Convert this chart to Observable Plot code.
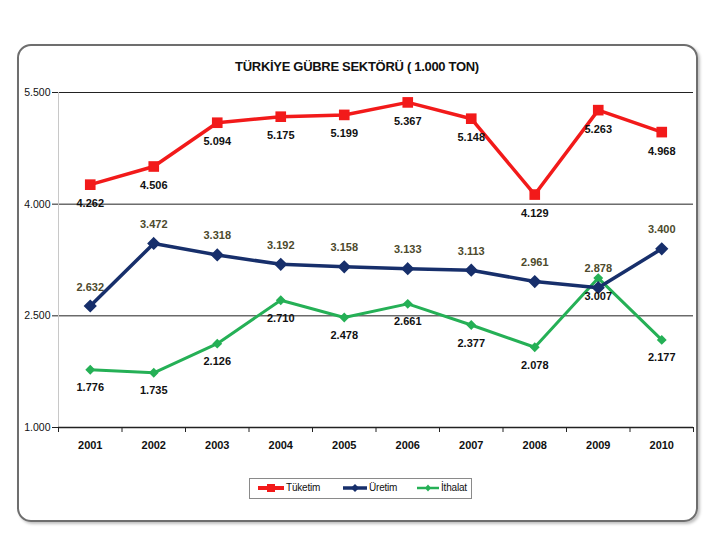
<!DOCTYPE html>
<html>
<head>
<meta charset="utf-8">
<script src="https://cdn.jsdelivr.net/npm/d3@7"></script>
<script src="https://cdn.jsdelivr.net/npm/@observablehq/plot@0.6"></script>
<style>
  body { margin: 0; background: #fff; font-family: "Liberation Sans", Arial, sans-serif; }
  #wrap { position: relative; width: 720px; height: 540px; overflow: hidden; }
  #frame { position: absolute; left: 17px; top: 44px; width: 677px; height: 474px;
           border: 2px solid #6e6e6e; border-radius: 14px; box-shadow: 2px 2px 3px rgba(0,0,0,0.25); }
  #title { position: absolute; left: 0; width: 714px; top: 59px; text-align: center;
           font-weight: bold; font-size: 13px; letter-spacing: -0.3px; color: #111; }
  #chart { position: absolute; left: 0; top: 0; }
  #legend { position: absolute; left: 249px; top: 478px; width: 221px; height: 19px;
            border: 1px solid #8a8a8a; font-size: 10px; letter-spacing: -0.2px; color: #111; }
  .item { position: absolute; top: 3px; display: flex; align-items: center; }
</style>
</head>
<body>
<div id="wrap">
  <div id="frame"></div>
  <div id="chart"></div>
  <div id="title">TÜRKİYE GÜBRE SEKTÖRÜ ( 1.000 TON)</div>
  <div id="legend"></div>
</div>
<script>
const years = [2001, 2002, 2003, 2004, 2005, 2006, 2007, 2008, 2009, 2010];
const tuketim = [4262, 4506, 5094, 5175, 5199, 5367, 5148, 4129, 5263, 4968];
const uretim  = [2632, 3472, 3318, 3192, 3158, 3133, 3113, 2961, 2878, 3400];
const ithalat = [1776, 1735, 2126, 2710, 2478, 2661, 2377, 2078, 3007, 2177];
const yTicks = [1000, 2500, 4000, 5500];
const seriesNames = ["Tüketim", "Üretim", "İthalat"];
const colors = ["#f21a1a", "#172f6b", "#25b056"];

const fmt = v => String(v).replace(/\B(?=(\d{3})+(?!\d))/g, ".");
const rows = s => years.map((y, i) => ({year: y, value: s[i]}));
const tk = rows(tuketim), ur = rows(uretim), it = rows(ithalat);
const bounds = d3.range(years.length + 1).map(i => years[0] - 0.5 + i);

const chart = Plot.plot({
  width: 720, height: 540,
  marginLeft: 58, marginRight: 27, marginTop: 92, marginBottom: 113,
  style: {fontFamily: "Liberation Sans, Arial, sans-serif", background: "transparent"},
  x: {type: "linear", domain: [years[0] - 0.5, years[years.length - 1] + 0.5]},
  y: {domain: [1000, 5500]},
  marks: [
    Plot.ruleY(yTicks.slice(1), {stroke: "#222", strokeWidth: 1}),
    Plot.ruleX([years[0] - 0.5], {stroke: "#c8c8c8", strokeWidth: 1}),
    Plot.ruleY([1000], {stroke: "#222", strokeWidth: 1.5}),
    Plot.axisY({ticks: yTicks, tickFormat: fmt, tickSize: 6, tickPadding: 2, stroke: "#222",
                fontSize: 10.5, fill: "#111", label: null}),
    Plot.axisX({ticks: bounds, tickFormat: () => "", tickSize: 5, stroke: "#222", label: null}),
    Plot.axisX({ticks: years, tickFormat: d => String(d), tickSize: 0, tickPadding: 14,
                fontSize: 11, fontWeight: "bold", fill: "#111", label: null}),
    Plot.line(it, {x: "year", y: "value", stroke: colors[2], strokeWidth: 3}),
    Plot.dot(it, {x: "year", y: "value", symbol: "diamond2", r: 3.5, fill: colors[2], stroke: colors[2]}),
    Plot.line(ur, {x: "year", y: "value", stroke: colors[1], strokeWidth: 3.5}),
    Plot.dot(ur, {x: "year", y: "value", symbol: "diamond2", r: 5, fill: colors[1], stroke: colors[1]}),
    Plot.line(tk, {x: "year", y: "value", stroke: colors[0], strokeWidth: 3.5}),
    Plot.dot(tk, {x: "year", y: "value", symbol: "square", r: 6, fill: colors[0], stroke: "none"}),
    Plot.text(tk, {x: "year", y: "value", text: d => fmt(d.value), dy: 19, fontSize: 11, fontWeight: "bold", fill: "#111"}),
    Plot.text(ur, {x: "year", y: "value", text: d => fmt(d.value), dy: -19, fontSize: 11, fontWeight: "bold", fill: "#4d4a2c"}),
    Plot.text(it, {x: "year", y: "value", text: d => fmt(d.value), dy: 18, fontSize: 11, fontWeight: "bold", fill: "#111"})
  ]
});
document.getElementById("chart").appendChild(chart);

// legend
const lg = document.getElementById("legend");
const lefts = [8, 93, 167];
const swW = [26, 24, 22];
const markerSvg = [
  w => `<svg width="${w}" height="10"><line x1="0" y1="5" x2="${w}" y2="5" stroke="${colors[0]}" stroke-width="4"/><rect x="${w/2-4}" y="1" width="8" height="8" fill="${colors[0]}"/></svg>`,
  w => `<svg width="${w}" height="10"><line x1="0" y1="5" x2="${w}" y2="5" stroke="${colors[1]}" stroke-width="3.5"/><path d="M${w/2} 1 L${w/2+4} 5 L${w/2} 9 L${w/2-4} 5Z" fill="${colors[1]}"/></svg>`,
  w => `<svg width="${w}" height="10"><line x1="0" y1="5" x2="${w}" y2="5" stroke="${colors[2]}" stroke-width="2.5"/><path d="M${w/2} 1.5 L${w/2+3} 5 L${w/2} 8.5 L${w/2-3} 5Z" fill="${colors[2]}"/></svg>`
];
seriesNames.forEach((n, i) => {
  const d = document.createElement("div");
  d.className = "item";
  d.style.left = lefts[i] + "px";
  d.innerHTML = markerSvg[i](swW[i]) + `<span style="margin-left:2px">${n}</span>`;
  lg.appendChild(d);
});
</script>
</body>
</html>
